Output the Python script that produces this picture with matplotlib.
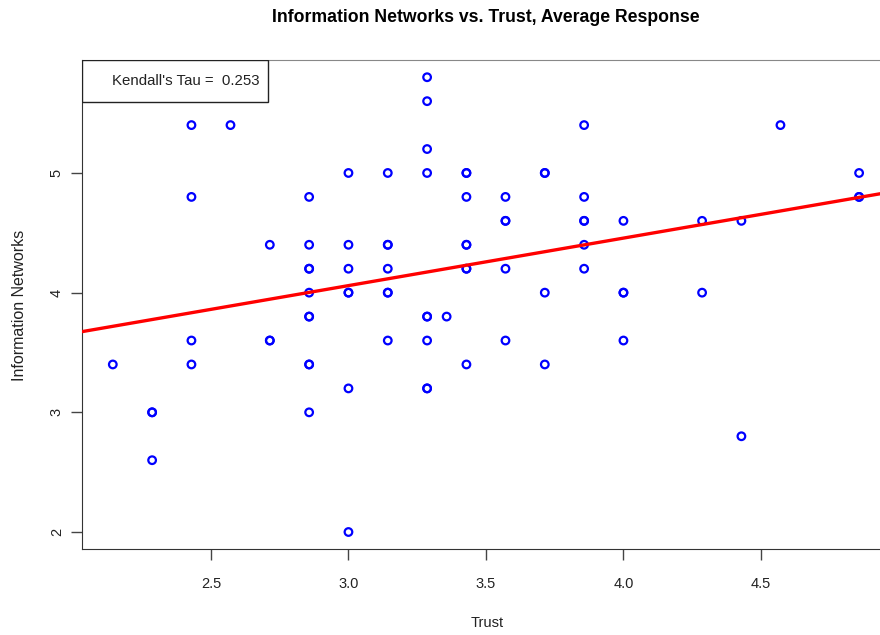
import numpy as np
import matplotlib
matplotlib.use('Agg')
import matplotlib.pyplot as plt
from matplotlib.patches import Rectangle

plt.rcParams['font.family'] = ['Liberation Sans', 'DejaVu Sans']

# Trust (media de 7 itens) e Information Networks (media de 5 itens)
trust = [2.143,
         2.286, 2.286, 2.286,
         2.429, 2.429, 2.429, 2.429,
         2.571,
         2.714, 2.714, 2.714,
         2.857, 2.857, 2.857, 2.857, 2.857, 2.857, 2.857, 2.857, 2.857, 2.857,
         3.0, 3.0, 3.0, 3.0, 3.0, 3.0, 3.0,
         3.143, 3.143, 3.143, 3.143, 3.143, 3.143, 3.143,
         3.286, 3.286, 3.286, 3.286, 3.286, 3.286, 3.286, 3.286, 3.286,
         3.357,
         3.429, 3.429, 3.429, 3.429, 3.429, 3.429, 3.429, 3.429,
         3.571, 3.571, 3.571, 3.571, 3.571,
         3.714, 3.714, 3.714, 3.714,
         3.857, 3.857, 3.857, 3.857, 3.857, 3.857,
         4.0, 4.0, 4.0, 4.0,
         4.286, 4.286,
         4.429, 4.429,
         4.571,
         4.857, 4.857, 4.857]
info_networks = [3.4,
                 3.0, 3.0, 2.6,
                 5.4, 4.8, 3.6, 3.4,
                 5.4,
                 4.4, 3.6, 3.6,
                 4.8, 4.4, 4.2, 4.2, 4.0, 3.8, 3.8, 3.4, 3.4, 3.0,
                 5.0, 4.4, 4.2, 4.0, 4.0, 3.2, 2.0,
                 5.0, 4.4, 4.4, 4.2, 4.0, 4.0, 3.6,
                 5.8, 5.6, 5.2, 5.0, 3.8, 3.8, 3.6, 3.2, 3.2,
                 3.8,
                 5.0, 5.0, 4.8, 4.4, 4.4, 4.2, 4.2, 3.4,
                 4.8, 4.6, 4.6, 4.2, 3.6,
                 5.0, 5.0, 4.0, 3.4,
                 5.4, 4.8, 4.6, 4.6, 4.4, 4.2,
                 4.6, 4.0, 4.0, 3.6,
                 4.6, 4.0,
                 4.6, 2.8,
                 5.4,
                 5.0, 4.8, 4.8]
kendall_tau = 0.253

x_ticks = [2.5, 3.0, 3.5, 4.0, 4.5]
y_ticks = [2, 3, 4, 5]

W, H = 880, 635
fig = plt.figure(figsize=(W / 100, H / 100), dpi=100)
ax = fig.add_axes([82 / W, 86 / H, 1 - 82 / W, 489 / H])

ax.scatter(trust, info_networks, s=30, facecolors='none', edgecolors='blue',
           linewidths=1.6, zorder=3)

# reta de regressao (lm)
coef = np.polyfit(trust, info_networks, 1)
ax.set_xlim(2.031, 4.933)
ax.set_ylim(1.858, 5.944)
xs = np.array(ax.get_xlim())
ax.plot(xs, coef[0] * xs + coef[1], color='red', linewidth=2.4, zorder=4)

ax.set_xticks(x_ticks)
ax.set_xticklabels([f'{v:.1f}' for v in x_ticks])
ax.set_yticks(y_ticks)
ax.set_yticklabels([str(v) for v in y_ticks], rotation=90, va='center')
ax.tick_params(direction='out', length=8, width=1, color='#444444',
               labelsize=10.5, labelcolor='#222222')
ax.tick_params(axis='x', pad=12)
ax.tick_params(axis='y', pad=5)
ax.spines['right'].set_visible(False)
for s in ['left', 'bottom']:
    ax.spines[s].set_color('#333333')
ax.spines['top'].set_color('#888888')

# titulo e rotulos centrados na regiao do grafico original (cortada a direita)
fig.text(486 / W, 1 - 18 / H, 'Information Networks vs. Trust, Average Response',
         ha='center', va='center', fontsize=12.7, fontweight='bold')
fig.text(487 / W, 1 - 623 / H, 'Trust', ha='center', va='center',
         fontsize=10.5, color='#222222')
fig.text(19 / W, 1 - 305 / H, 'Information Networks', ha='center', va='center',
         rotation=90, fontsize=11.5, color='#222222')

# caixa da legenda com o tau de Kendall
ax.add_patch(Rectangle((0, 1 - 42 / 489), 186 / 798, 42 / 489, transform=ax.transAxes,
                       facecolor='white', edgecolor='#222222', linewidth=1, zorder=5))
ax.text(177 / 798, 1 - 21 / 489, f"Kendall's Tau =  {kendall_tau}", transform=ax.transAxes,
        ha='right', va='center', fontsize=10.8, color='#222222', zorder=6)

fig.savefig('out.png', dpi=100)
